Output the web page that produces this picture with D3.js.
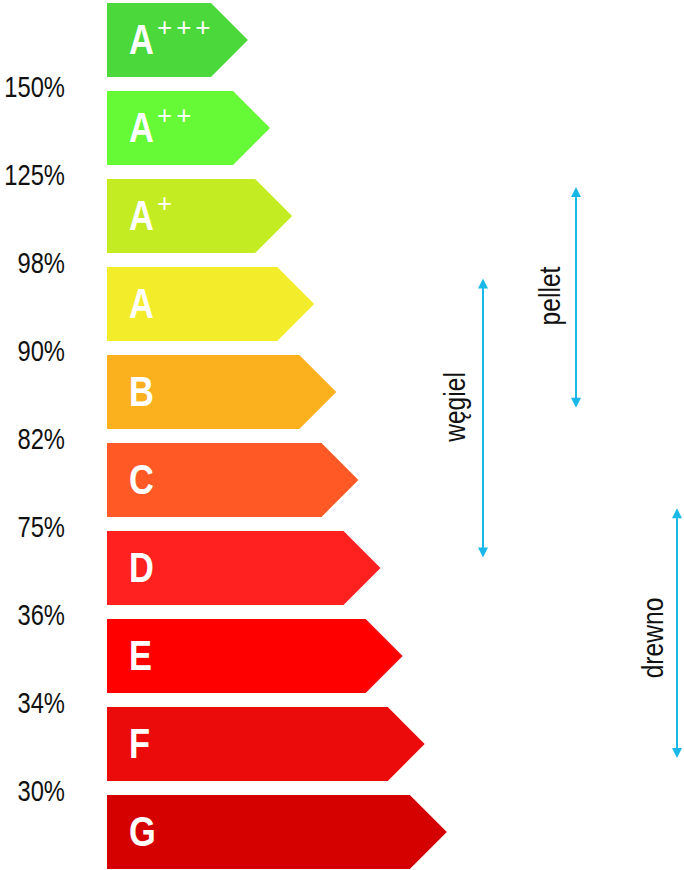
<!DOCTYPE html>
<html><head><meta charset="utf-8">
<script src="https://cdn.jsdelivr.net/npm/d3@7"></script>
<style>
html,body{margin:0;padding:0;background:#fff;}
svg{display:block;}
</style></head>
<body>
<script>
// ---- data ----
const classes   = ["A+++","A++","A+","A","B","C","D","E","F","G"];
const baseLetters = ["A","A","A","A","B","C","D","E","F","G"];
const superscripts = ["+++","++","+","","","","","","",""];
const barRank   = [1,2,3,4,5,6,7,8,9,10];
const colors    = ["#4bd83a","#66f935","#c3ec22","#f2ec2b","#fbb01e","#ff5a26","#ff2020","#ff0000","#ec0b0b","#d50000"];
const thresholds = ["150%","125%","98%","90%","82%","75%","36%","34%","30%"]; // boundary labels between classes
const fuels     = ["węgiel","pellet","drewno"];
const fuelFrom  = [3.13, 2.09, 5.74];   // in class units (0 = top of A+++)
const fuelTo    = [6.30, 4.60, 8.58];

const W = 684, H = 870;
const FONT = "'Liberation Sans',Arial,sans-serif";
const NARROW = 0.82;
const svg = d3.select("body").append("svg").attr("width", W).attr("height", H);

const y = d3.scaleBand().domain(classes).range([3, 869]).paddingInner(0.16).paddingOuter(0);
const yc = d3.scaleLinear().domain([0, classes.length]).range([3, 3 + y.step() * classes.length]);
const x = d3.scaleLinear().domain([0, 10]).range([225.8, 446.8]);
const x0 = 107;
const bh = y.bandwidth();

const bars = svg.append("g");
classes.forEach((c, i) => {
  const top = y(c), tip = x(barRank[i]), half = bh / 2;
  const p = d3.path();
  p.moveTo(x0, top);
  p.lineTo(tip - half, top);
  p.lineTo(tip, top + half);
  p.lineTo(tip - half, top + bh);
  p.lineTo(x0, top + bh);
  p.closePath();
  bars.append("path").attr("d", p.toString()).attr("fill", colors[i]);
  bars.append("text")
    .attr("transform", `translate(129,${top + 51}) scale(${NARROW},1)`)
    .attr("fill", "#fff").style("font-family", FONT)
    .style("font-weight", "bold").style("font-size", "42px")
    .text(baseLetters[i]);
  if (superscripts[i]) {
    bars.append("text")
      .attr("transform", `translate(157,${top + 33})`)
      .attr("fill", "#fff").style("font-family", FONT)
      .style("font-size", "26px").style("letter-spacing", "4px")
      .text(superscripts[i]);
  }
});

// threshold labels
svg.append("g").selectAll("text").data(thresholds).join("text")
  .attr("transform", (d, i) => `translate(65,${y(classes[i + 1]) + 6}) scale(${NARROW},1)`)
  .attr("text-anchor", "end")
  .style("font-family", FONT).style("font-size", "29px").attr("fill", "#111")
  .text(d => d);

// fuel arrows
const arrowX = [483, 576, 677];
const labelX = [465, 560, 663];
const labelY = [407, 296, 638];
const col = "#1ab8e8";
fuels.forEach((f, i) => {
  const g = svg.append("g");
  const ax = arrowX[i], y1 = yc(fuelFrom[i]), y2 = yc(fuelTo[i]);
  g.append("line").attr("x1", ax).attr("x2", ax).attr("y1", y1 + 8).attr("y2", y2 - 8)
    .attr("stroke", col).attr("stroke-width", 2);
  g.append("path").attr("d", `M${ax},${y1}L${ax-5},${y1+10}L${ax+5},${y1+10}Z`).attr("fill", col);
  g.append("path").attr("d", `M${ax},${y2}L${ax-5},${y2-10}L${ax+5},${y2-10}Z`).attr("fill", col);
  g.append("text")
    .attr("transform", `translate(${labelX[i]},${labelY[i]}) rotate(-90) scale(${NARROW},1)`)
    .attr("text-anchor", "middle")
    .style("font-family", FONT).style("font-size", "30px").attr("fill", "#111")
    .text(f);
});
</script>
</body></html>
